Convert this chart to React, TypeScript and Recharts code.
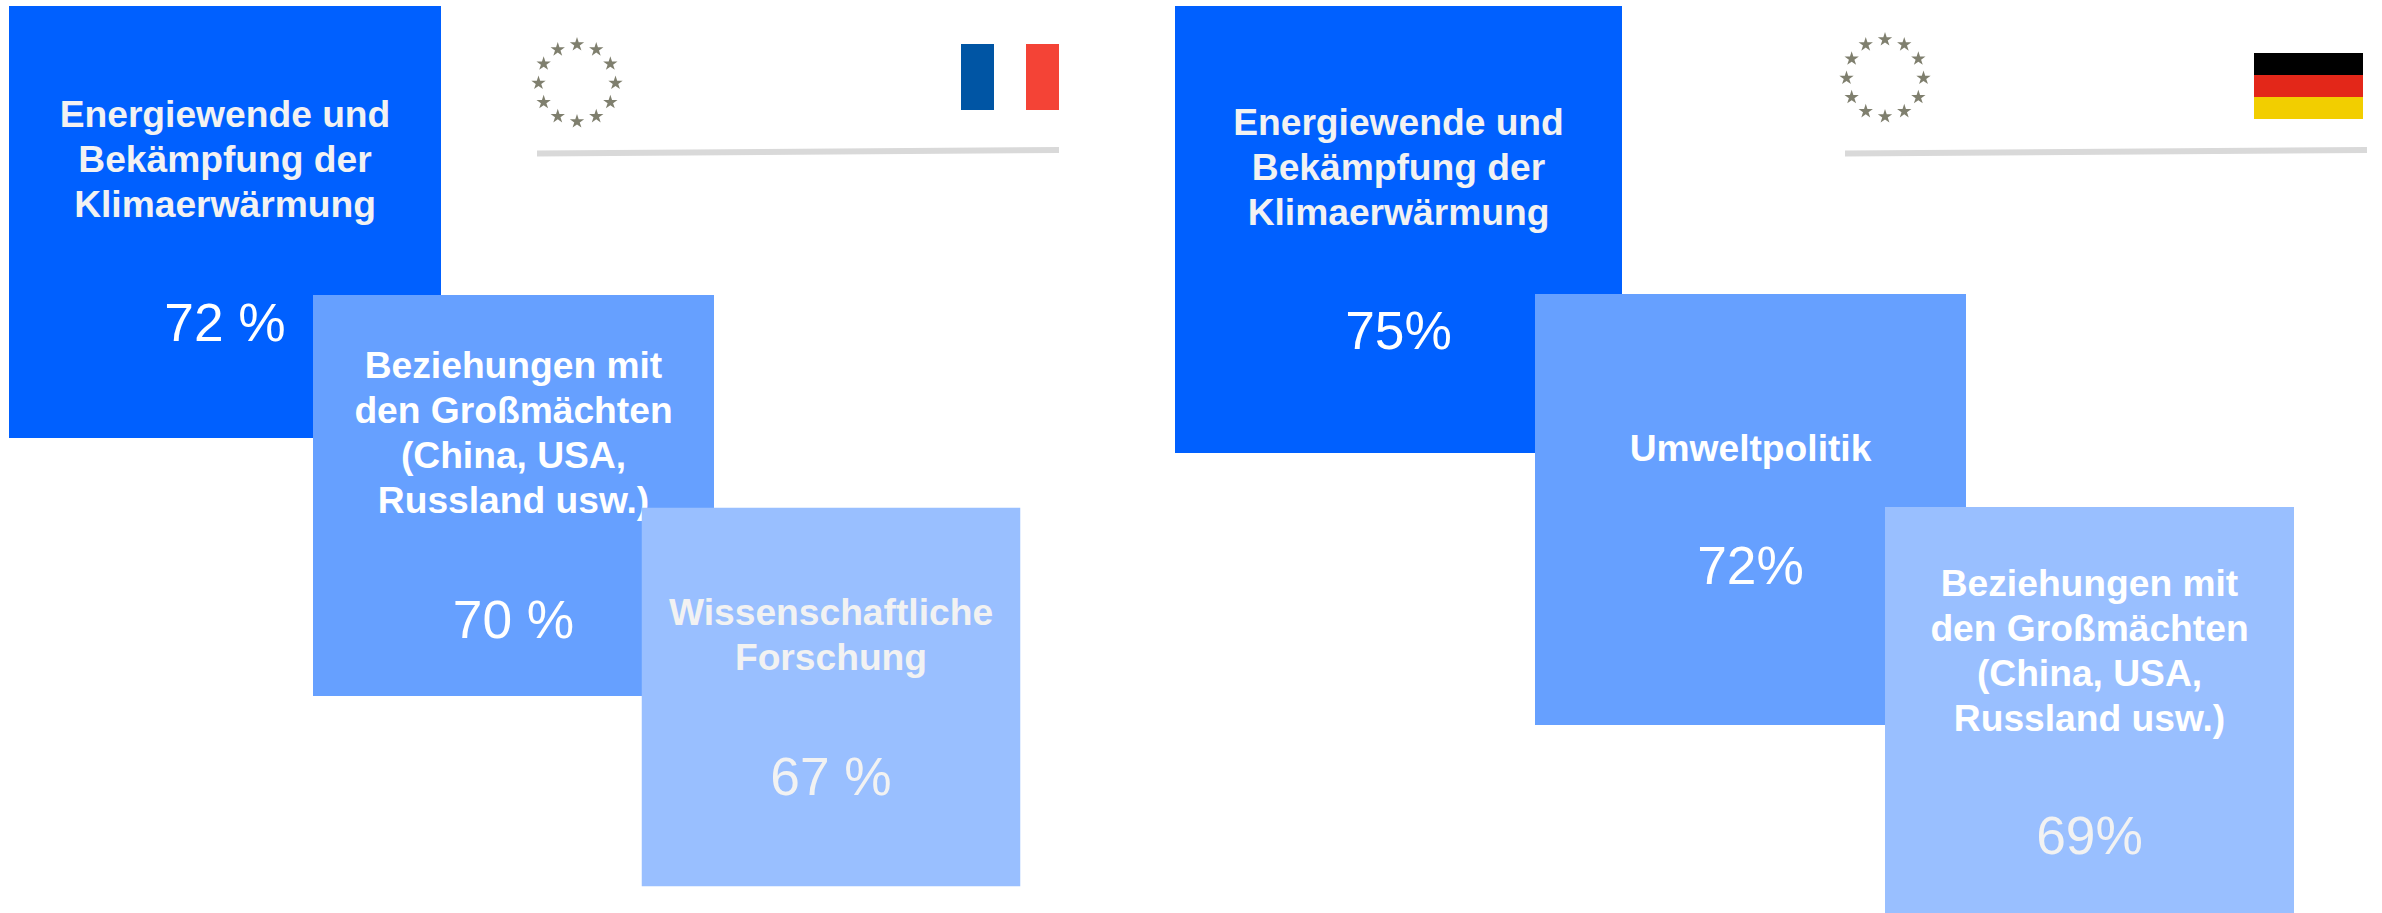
import React from "react";
import { ScatterChart, Scatter, XAxis, YAxis, ZAxis, ReferenceArea, ReferenceLine } from "recharts";

// ---- data ----
const franceCategories = [
  ["Energiewende und", "Bekämpfung der", "Klimaerwärmung"],
  ["Beziehungen mit", "den Großmächten", "(China, USA,", "Russland usw.)"],
  ["Wissenschaftliche", "Forschung"],
];
const franceValues = [72, 70, 67];
const germanyCategories = [
  ["Energiewende und", "Bekämpfung der", "Klimaerwärmung"],
  ["Umweltpolitik"],
  ["Beziehungen mit", "den Großmächten", "(China, USA,", "Russland usw.)"],
];
const germanyValues = [75, 72, 69];
const franceUnit = " %";
const germanyUnit = "%";

// ---- layout (in the chart's coordinate space) ----
const WIDTH = 2382;
const HEIGHT = 913;
const franceCenters = [[225, 222], [513.5, 495.5], [831, 697]];
const franceSides = [432, 401, 378.5];
const franceTextY = [126.5, 378, 624.5];
const franceValueY = [341, 637.5, 795];
const germanyCenters = [[1398.5, 229.5], [1750.5, 509.5], [2089.5, 711.5]];
const germanySides = [447, 431, 409];
const germanyTextY = [134.5, 460.5, 595.5];
const germanyValueY = [348.5, 584, 854];
const tileColors = ["#0060ff", "#66a0ff", "#99bfff"];
const nameColors = ["#f2f2f2", "#ffffff", "#f2f2f2"];
const valueColors = ["#ffffff", "#ffffff", "#f2f2f2"];
const germanyNameColors = ["#f2f2f2", "#ffffff", "#ffffff"];
const germanyValueColors = ["#ffffff", "#ffffff", "#f2f2f2"];
const FONT = "'Liberation Sans', Arial, sans-serif";
const LINE_PITCH = 45;
const starHours = [0, 1, 2, 3, 4, 5, 6, 7, 8, 9, 10, 11];
const STAR_RADIUS = 38.5;
const STAR_COLOR = "#7f7f6e";
const franceStarCenter = [577, 83];
const germanyStarCenter = [1885, 78];

const starRing = ([cx, cy]: number[]) =>
  starHours.map((h) => ({
    x: cx + STAR_RADIUS * Math.sin((h * Math.PI) / 6),
    y: cy - STAR_RADIUS * Math.cos((h * Math.PI) / 6),
  }));

const Tile = (props: any) => {
  const { cx, cy, payload } = props;
  const { side, color, lines, label, textY, valueY, nameColor, valueColor } = payload;
  const top = cy - payload.y;
  return (
    <g>
      <rect x={cx - side / 2} y={cy - side / 2} width={side} height={side} fill={color} />
      {lines.map((line: string, i: number) => (
        <text
          key={line}
          x={cx}
          y={top + textY + i * LINE_PITCH}
          textAnchor="middle"
          fontFamily={FONT}
          fontWeight={700}
          fontSize={37.2}
          fill={nameColor}
        >
          {line}
        </text>
      ))}
      <text x={cx} y={top + valueY} textAnchor="middle" fontFamily={FONT} fontSize={53.3} fill={valueColor}>
        {label}
      </text>
    </g>
  );
};

const tileRows = (
  cats: string[][],
  vals: number[],
  unit: string,
  centers: number[][],
  sides: number[],
  textY: number[],
  valueY: number[],
  nameCols: string[],
  valueCols: string[],
) =>
  vals.map((v, i) => ({
    x: centers[i][0],
    y: centers[i][1],
    side: sides[i],
    color: tileColors[i],
    lines: cats[i],
    label: `${v}${unit}`,
    textY: textY[i],
    valueY: valueY[i],
    nameColor: nameCols[i],
    valueColor: valueCols[i],
  }));

const franceRows = tileRows(franceCategories, franceValues, franceUnit, franceCenters, franceSides, franceTextY, franceValueY, nameColors, valueColors);
const germanyRows = tileRows(germanyCategories, germanyValues, germanyUnit, germanyCenters, germanySides, germanyTextY, germanyValueY, germanyNameColors, germanyValueColors);

export default function App() {
  return (
    <div style={{ position: "absolute", left: 0, top: 0, width: WIDTH, height: HEIGHT, background: "#fff", overflow: "hidden" }}>
      <ScatterChart width={WIDTH} height={HEIGHT} margin={{ top: 0, right: 0, bottom: 0, left: 0 }}>
        <XAxis type="number" dataKey="x" domain={[0, WIDTH]} hide allowDataOverflow />
        <YAxis type="number" dataKey="y" domain={[0, HEIGHT]} reversed hide allowDataOverflow />
        <ZAxis range={[44, 44]} />

        <ReferenceLine segment={[{ x: 537, y: 153.5 }, { x: 1059, y: 150 }]} stroke="#d9d9d9" strokeWidth={6} />
        <ReferenceLine segment={[{ x: 1845, y: 153.5 }, { x: 2367, y: 150 }]} stroke="#d9d9d9" strokeWidth={6} />

        <ReferenceArea x1={961} x2={994} y1={44} y2={110} fill="#0055a4" fillOpacity={1} stroke="none" />
        <ReferenceArea x1={1026} x2={1059} y1={44} y2={110} fill="#f44336" fillOpacity={1} stroke="none" />
        <ReferenceArea x1={2254} x2={2363} y1={53} y2={75} fill="#000000" fillOpacity={1} stroke="none" />
        <ReferenceArea x1={2254} x2={2363} y1={75} y2={97} fill="#e32719" fillOpacity={1} stroke="none" />
        <ReferenceArea x1={2254} x2={2363} y1={97} y2={119} fill="#f2ce00" fillOpacity={1} stroke="none" />

        <Scatter data={starRing(franceStarCenter)} shape="star" fill={STAR_COLOR} isAnimationActive={false} />
        <Scatter data={starRing(germanyStarCenter)} shape="star" fill={STAR_COLOR} isAnimationActive={false} />

        {franceRows.map((row, i) => (
          <Scatter key={`fr-${i}`} data={[row]} shape={Tile} isAnimationActive={false} />
        ))}
        {germanyRows.map((row, i) => (
          <Scatter key={`de-${i}`} data={[row]} shape={Tile} isAnimationActive={false} />
        ))}
      </ScatterChart>
    </div>
  );
}
